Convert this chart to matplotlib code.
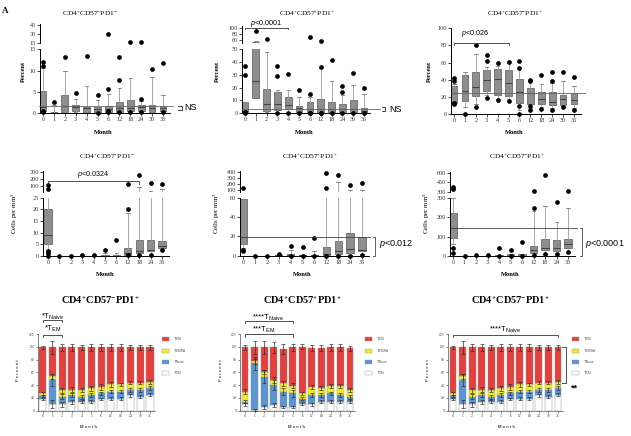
import matplotlib
matplotlib.use('Agg')
import matplotlib.pyplot as plt
import numpy as np
from matplotlib.patches import Rectangle

plt.rcParams['font.family'] = ['Liberation Serif', 'DejaVu Serif']
plt.rcParams['mathtext.fontset'] = 'custom'
plt.rcParams['mathtext.rm'] = 'Liberation Sans'
plt.rcParams['mathtext.it'] = 'Liberation Sans:italic'
plt.rcParams['mathtext.bf'] = 'Liberation Sans:bold'

# ---------------- data ----------------
months12 = ['0', '1', '2', '3', '4', '5', '6', '12', '18', '24', '30', '36']
months11 = ['0', '1', '2', '3', '4', '5', '6', '12', '18', '24', '36']

# Row 1, panel 1: CD4+CD57+PD1- (percent)
p1_q1 = [0.5, 0.0, 0.2, 0.5, 0.3, 0.3, 0.2, 0.3, 0.5, 0.5, 0.3, 0.5]
p1_med = [1.5, 0.1, 1.7, 1.5, 1.2, 1.0, 1.0, 1.3, 1.3, 1.4, 1.2, 1.2]
p1_q3 = [5.3, 0.3, 4.3, 2.0, 1.5, 1.5, 1.7, 2.7, 3.0, 2.0, 2.0, 1.7]
p1_lo = [0.2, 0.0, 0.1, 0.3, 0.1, 0.1, 0.1, 0.1, 0.2, 0.2, 0.1, 0.2]
p1_hi = [10.7, 2.0, 9.8, 3.4, 6.3, 3.2, 4.5, 6.0, 8.3, 2.8, 8.5, 4.3]
p1_fl = [[12.0, 11.0, 0.3, 0.5], [2.7], [13.2], [4.7], [13.5], [4.2, 0.0],
         [5.6, 30.0, 0.3, 0.5], [13.2, 7.7, 0.2], [16.5, 0.2], [3.4, 16.5, 0.3],
         [10.3], [11.9, 0.3]]

# Row 1, panel 2: CD4+CD57+PD1+ (percent)
p2_q1 = [0.5, 12, 2, 2.5, 3, 1, 1, 0.5, 1, 1, 1, 0.5]
p2_med = [2, 25, 7, 7.5, 6.5, 4, 3, 3, 3, 3, 3, 2]
p2_q3 = [8.5, 52, 19, 17, 12.5, 6, 8.5, 11, 8.5, 7.5, 10.5, 4.5]
p2_lo = [0.2, 12, 1, 1, 1, 0.3, 0.2, 0.2, 0.3, 0.3, 0.3, 0.2]
p2_hi = [8.5, 57, 48, 18, 18, 12.5, 13, 35, 25, 14, 22, 15]
p2_fl = [[37, 30, 1, 0.5], [90], [63], [37, 29, 0], [31, 0], [18, 0],
         [15, 70, 0, 0.3], [36, 57, 0, 0.3], [42, 0], [21, 17, 0], [31.5, 0], [20, 0]]

# Row 1, panel 3: CD4+CD57-PD1+ (percent)
p3_q1 = [13, 15, 21, 27, 22, 21, 13, 12, 12, 11, 11, 12]
p3_med = [24, 27, 32, 40, 41, 36, 26, 24, 17, 14, 17, 16]
p3_q3 = [33, 45, 49, 51, 52, 51, 41, 30, 26, 26, 22, 24]
p3_lo = [13, 8, 12, 22, 17, 17, 5, 7, 8, 7, 9, 7]
p3_hi = [35, 49, 70, 55, 56, 60, 54, 40, 35, 36, 39, 33]
p3_fl = [[42, 38, 12, 12.5], [0], [81, 8], [69, 62, 19], [60, 16], [61, 15],
         [62, 54, 9, 0], [39, 40, 5, 9], [46, 6], [49, 39, 5], [49, 8], [43, 5]]

# Row 2, panel 4: CD4+CD57+PD1- (cells per mm3)
p4_q1 = [5, 0, 0, 0, 0, 0, 0, 0.3, 1.5, 2, 3.5]
p4_med = [9, 0, 0, 0, 0, 0.1, 0.2, 1.5, 2, 2.7, 4.5]
p4_q3 = [20, 0, 0.1, 0.1, 0.2, 0.5, 0.5, 3.3, 7, 7, 6.5]
p4_lo = [2.5, 0, 0, 0, 0, 0, 0, 0.3, 0.5, 0.5, 2.5]
p4_hi = [30, 0, 0.2, 0.3, 0.5, 1.5, 1.5, 18.5, 95, 40, 65]
p4_fl = [[120, 60, 2, 1.2, 0], [0], [0.2], [0.3], [0.5], [2.7], [7],
         [20, 130, 0.3], [250, 0.5], [150, 0.5], [130, 2.5]]

# Row 2, panel 5: CD4+CD57+PD1+ (cells per mm3)
p5_q1 = [12, 0, 0, 0, 0, 0, 0, 1, 2, 3, 5]
p5_med = [19, 0, 0, 0.5, 0.5, 0.3, 0.5, 2, 5, 7, 6]
p5_q3 = [59, 0, 0, 1, 1.5, 0.5, 1, 9, 15, 23, 19]
p5_lo = [8, 0, 0, 0, 0, 0, 0, 0.5, 1, 1, 2]
p5_hi = [59, 0, 0, 1.5, 6, 1, 5, 62, 220, 95, 100]
p5_fl = [[130, 6, 5], [0], [0], [2], [10, 0], [9.5, 0], [18, 0],
         [130, 370, 0], [350, 0], [170, 0], [210, 1]]

# Row 2, panel 6: CD4+CD57-PD1+ (cells per mm3)
p6_q1 = [95, 0, 0, 0, 0, 0, 0, 15, 30, 25, 42]
p6_med = [145, 0, 0, 0, 1, 2, 2, 30, 40, 40, 60]
p6_q3 = [220, 0, 0, 0, 5, 8, 8, 50, 85, 82, 88]
p6_lo = [60, 0, 0, 0, 0, 0, 0, 5, 10, 8, 20]
p6_hi = [300, 0, 0, 0, 5, 8, 8, 230, 258, 175, 248]
p6_fl = [[380, 350, 40, 15], [0], [5], [5], [40, 0], [33, 0], [70, 0],
         [310, 245, 5], [560, 10], [280, 8], [310, 20]]

# Row 3: memory subsets (percent, stacked): CM, Naive, EMRA, EM
neg_cm = [18, 10, 10, 14, 14, 14, 18, 19, 19, 24, 22, 25]
neg_naive = [5, 38, 12, 10, 8, 10, 9, 11, 11, 9, 11, 10]
neg_emra = [4, 6, 10, 9, 11, 11, 10, 11, 11, 11, 11, 10]
neg_em = [72, 45, 67, 66, 66, 64, 62, 58, 58, 55, 55, 54]
neg_cm_err = [2, 6, 4, 3, 2, 2, 2, 2, 2, 2, 2, 2]
neg_naive_err = [2, 10, 4, 3, 3, 3, 3, 3, 3, 3, 3, 3]
neg_emra_err = [2, 4, 4, 4, 3, 4, 4, 4, 3, 3, 3, 3]
neg_em_err = [3, 10, 6, 5, 4, 5, 5, 5, 5, 4, 4, 4]

pos_cm = [10, 1, 6, 9, 6, 6, 11, 10, 14, 14, 14, 14]
pos_naive = [4, 73, 47, 31, 24, 21, 8, 15, 11, 13, 11, 8]
pos_emra = [16, 3, 8, 8, 13, 12, 8, 12, 10, 12, 13, 10]
pos_em = [69, 22, 38, 51, 54, 60, 73, 61, 63, 60, 61, 66]
pos_cm_err = [2, 1, 3, 3, 2, 2, 2, 2, 2, 2, 2, 2]
pos_naive_err = [2, 10, 10, 8, 6, 6, 3, 3, 3, 3, 3, 3]
pos_emra_err = [4, 4, 3, 4, 4, 4, 3, 3, 3, 3, 3, 3]
pos_em_err = [4, 10, 10, 8, 8, 6, 4, 5, 5, 5, 5, 4]

subset_labels = [r'T$\mathregular{_{EM}}$', r'T$\mathregular{_{EMRA}}$',
                 r'T$\mathregular{_{Naive}}$', r'T$\mathregular{_{CM}}$']
subset_colors = ['#e5403d', '#f3ec1c', '#5b96d2', '#ffffff']  # EM, EMRA, Naive, CM

# ---------------- figure ----------------
W, H = 631, 436
fig = plt.figure(figsize=(W / 100, H / 100), dpi=100)


def add_ax(x0, y0, x1, y1):
    return fig.add_axes([x0 / W, 1 - y1 / H, (x1 - x0) / W, (y1 - y0) / H])


def ftext(x, y, s, **kw):
    return fig.text(x / W, 1 - y / H, s, **kw)


def style_ax(ax, lw=0.7, color='black', labelsize=4.4):
    for sp in ['top', 'right']:
        ax.spines[sp].set_visible(False)
    for sp in ['left', 'bottom']:
        ax.spines[sp].set_linewidth(lw)
        ax.spines[sp].set_color(color)
    ax.tick_params(direction='out', length=2, width=0.5, labelsize=labelsize, pad=1,
                   color=color, labelcolor='#333')
    ax.patch.set_alpha(0)


def xgeom(first, last, left, n, extra=0.6):
    s = (last - first) / (n - 1)
    lo = -(first - left) / s
    hi = n - 1 + extra
    return lo, hi, first + hi * s


def draw_boxes(ax, q1, med, q3, lo, hi, fliers, ylim):
    stats = [dict(med=m, q1=a, q3=b, whislo=l, whishi=h, fliers=[])
             for a, m, b, l, h in zip(q1, med, q3, lo, hi)]
    ax.bxp(stats, positions=list(range(len(stats))), widths=0.62, patch_artist=True,
           showfliers=False, manage_ticks=False, capwidths=0.32,
           boxprops=dict(facecolor='#8e8e8e', edgecolor='#6a6a6a', linewidth=0.6),
           medianprops=dict(color='#444444', linewidth=0.8),
           whiskerprops=dict(color='#9a9a9a', linewidth=0.6),
           capprops=dict(color='#7a7a7a', linewidth=0.6))
    for i, fl in enumerate(fliers):
        ys = [v for v in fl if ylim[0] <= v <= ylim[1]]
        if ys:
            ax.plot([i] * len(ys), ys, 'o', color='black', ms=3.4, mec='none',
                    clip_on=False, zorder=6)
    ax.set_ylim(ylim)


def box_panel(geom, cats, data, lower_px, lower_lim, lower_ticks,
              upper_px=None, upper_lim=None, upper_ticks=None):
    first, last, left = geom
    n = len(cats)
    lo, hi, x1 = xgeom(first, last, left, n)
    axl = add_ax(left, lower_px[0], x1, lower_px[1])
    draw_boxes(axl, *data, lower_lim)
    axl.set_xlim(lo, hi)
    axl.set_xticks(range(n))
    axl.set_xticklabels(cats)
    axl.set_yticks(lower_ticks)
    style_ax(axl)
    axu = None
    if upper_px is not None:
        axu = add_ax(left, upper_px[0], x1, upper_px[1])
        draw_boxes(axu, *data, upper_lim)
        axu.set_xlim(lo, hi)
        axu.set_yticks(upper_ticks)
        style_ax(axu)
        axu.spines['bottom'].set_visible(False)
        axu.tick_params(axis='x', bottom=False, labelbottom=False)
    return axl, axu


def bracket(ax, x0, x1, y, drop, lw=0.6, color='#333'):
    ax.plot([x0, x0, x1, x1], [y - drop, y, y, y - drop], color=color, lw=lw,
            clip_on=False, zorder=7)


def title(x, y, s, size=5.4, weight='normal'):
    ftext(x, y, s, ha='center', va='center', fontsize=size, fontweight=weight,
          family='Liberation Serif')


# ---- panel letter ----
ftext(5, 11, 'A', fontsize=6.5, fontweight='bold', ha='center', va='center')

# ================= ROW 1 =================
title(90, 14, r'CD4$\mathregular{^{+}}$CD57$\mathregular{^{+}}$PD1$\mathregular{^{-}}$')
title(307, 14, r'CD4$\mathregular{^{+}}$CD57$\mathregular{^{+}}$PD1$\mathregular{^{+}}$')
title(515, 14, r'CD4$\mathregular{^{+}}$CD57$\mathregular{^{-}}$PD1$\mathregular{^{+}}$')

a1l, a1u = box_panel((43, 163, 40), months12,
                     (p1_q1, p1_med, p1_q3, p1_lo, p1_hi, p1_fl),
                     (49.3, 113.3), (0, 15), [0, 5, 10, 15],
                     (24, 43), (15, 47), [15, 30, 45])
a1l.plot([-0.37, 11.9], [1.7, 1.7], color='#666', lw=0.6, clip_on=False, zorder=7)
a1l.plot([12.35, 12.7, 12.7, 12.35], [1.8, 1.8, 0.8, 0.8], color='#222', lw=0.6, clip_on=False)
a1l.text(12.95, 1.3, 'NS', fontsize=6.5, family='Liberation Sans', va='center', ha='left')

a2l, a2u = box_panel((245, 364, 242), months12,
                     (p2_q1, p2_med, p2_q3, p2_lo, p2_hi, p2_fl),
                     (49.3, 113.3), (0, 50), [0, 10, 20, 30, 40, 50],
                     (26, 43), (50, 105), [60, 80, 100])
a2l.plot([-0.3, 12.5], [3.5, 3.5], color='#666', lw=0.6, clip_on=False, zorder=7)
a2l.plot([12.7, 12.95, 12.95, 12.7], [4.7, 4.7, 1.8, 1.8], color='#222', lw=0.6, clip_on=False)
a2l.text(13.3, 3.2, 'NS', fontsize=6.5, family='Liberation Sans', va='center', ha='left')
bracket(a2u, 0, 4, 99, 5)
a2u.text(2.0, 114, r'$\mathit{p}$<0.0001', fontsize=5.2, family='Liberation Sans',
         ha='center', va='center')

a3l, _ = box_panel((454, 574, 451), months12,
                   (p3_q1, p3_med, p3_q3, p3_lo, p3_hi, p3_fl),
                   (28.3, 114), (0, 100), [0, 20, 40, 60, 80, 100])
a3l.plot([-0.3, 12.0], [25, 25], color='#666', lw=0.6, clip_on=False, zorder=7)
bracket(a3l, 0, 5, 83, 3)
a3l.text(1.9, 94, r'$\mathit{p}$<0.026', fontsize=5.2, family='Liberation Sans',
         ha='center', va='center')

for x in (23, 217, 429):
    ftext(x, 72, 'Percent', rotation=90, fontsize=4.7, fontweight='bold', ha='center', va='center')
for x in (103, 304, 514):
    ftext(x, 132, 'Month', fontsize=4.7, fontweight='bold', ha='center', va='center')

# ================= ROW 2 =================
title(107, 157, r'CD4$\mathregular{^{+}}$CD57$\mathregular{^{+}}$PD1$\mathregular{^{-}}$')
title(310, 157, r'CD4$\mathregular{^{+}}$CD57$\mathregular{^{+}}$PD1$\mathregular{^{+}}$')
title(517, 157, r'CD4$\mathregular{^{+}}$CD57$\mathregular{^{-}}$PD1$\mathregular{^{+}}$')

a4l, a4u = box_panel((48, 162, 43), months11,
                     (p4_q1, p4_med, p4_q3, p4_lo, p4_hi, p4_fl),
                     (197.7, 256), (0, 25), [0, 5, 10, 15, 20, 25],
                     (171, 192), (25, 310), [100, 200, 300])
bracket(a4u, 0, 8, 178, 45)
a4u.text(4.0, 269, r'$\mathit{p}$<0.0324', fontsize=5.2, family='Liberation Sans',
         ha='center', va='center')

a5l, a5u = box_panel((243, 362, 240), months11,
                     (p5_q1, p5_med, p5_q3, p5_lo, p5_hi, p5_fl),
                     (197.7, 255.7), (0, 60), [0, 20, 40, 60],
                     (171, 192), (60, 410), [100, 200, 300, 400])
a5l.plot([-0.25, 10.7], [19, 19], color='#444', lw=0.6, clip_on=False, zorder=7)
a5l.plot([10.9, 11.1, 11.1, 10.9], [19, 19, 0, 0], color='#444', lw=0.6, clip_on=False)
a5l.text(11.4, 12, r'$\mathit{p}$<0.012', fontsize=6.5, family='Liberation Sans',
         ha='left', va='center')

a6l, a6u = box_panel((453, 568, 450), months11,
                     (p6_q1, p6_med, p6_q3, p6_lo, p6_hi, p6_fl),
                     (197.7, 256), (0, 300), [0, 100, 200, 300],
                     (171.7, 191.7), (300, 615), [300, 450, 600])
a6l.plot([-0.25, 10.8], [145, 145], color='#444', lw=0.6, clip_on=False, zorder=7)
a6l.plot([11.0, 11.2, 11.2, 11.0], [145, 145, 0, 0], color='#444', lw=0.6, clip_on=False)
a6l.text(11.5, 62, r'$\mathit{p}$<0.0001', fontsize=6.5, family='Liberation Sans',
         ha='left', va='center')

for x in (15, 217, 427):
    ftext(x, 213, r'Cells per mm$\mathregular{^{3}}$', rotation=90, fontsize=5,
          ha='center', va='center')
for x in (105, 302, 510):
    ftext(x, 274, 'Month', fontsize=4.7, fontweight='bold', ha='center', va='center')

# ================= ROW 3 =================
title(100, 300, r'CD4$\mathregular{^{+}}$CD57$\mathregular{^{-}}$PD1$\mathregular{^{+}}$', size=7.5, weight='bold')
title(302, 300, r'CD4$\mathregular{^{+}}$CD57$\mathregular{^{+}}$PD1$\mathregular{^{+}}$', size=7.5, weight='bold')
title(510, 300, r'CD4$\mathregular{^{+}}$CD57$\mathregular{^{-}}$PD1$\mathregular{^{+}}$', size=7.5, weight='bold')


def bar_panel(geom, segs, errs, legend_x):
    first, last, left = geom
    lo, hi, x1 = xgeom(first, last, left, 12, extra=0.55)
    ax = add_ax(left, 334, x1, 410.7)
    x = np.arange(12)
    bottom = np.zeros(12)
    cols = [subset_colors[3], subset_colors[2], subset_colors[1], subset_colors[0]]
    for vals, err, col in zip(segs, errs, cols):
        vals = np.asarray(vals, float)
        ax.bar(x, vals, bottom=bottom, width=0.72, color=col, edgecolor='#8a8a8a',
               linewidth=0.3, zorder=2)
        top = bottom + vals
        ax.errorbar(x, top, yerr=err, fmt='none', ecolor='#333', elinewidth=0.5,
                    capsize=1.3, capthick=0.5, zorder=3)
        bottom = top
    ax.set_xlim(lo, hi)
    ax.set_ylim(0, 120)
    ax.set_yticks(range(0, 121, 20))
    ax.set_xticks(x)
    ax.set_xticklabels(months12)
    style_ax(ax, lw=0.5, color='#555', labelsize=2.6)
    ax.tick_params(length=1.5)
    # legend
    for k, (lab, col) in enumerate(zip(subset_labels, subset_colors)):
        yc = [339.3, 350.7, 361.7, 372.7][k]
        fig.add_artist(Rectangle((legend_x / W, 1 - (yc + 2) / H), 7 / W, 4 / H,
                                 transform=fig.transFigure, facecolor=col,
                                 edgecolor='#999', linewidth=0.3))
        ftext(legend_x + 11, yc, lab, fontsize=3.2, family='Liberation Sans',
              color='#555', ha='left', va='center')
    return ax


a7 = bar_panel((42.7, 150, 38), (neg_cm, neg_naive, neg_emra, neg_em),
               (neg_cm_err, neg_naive_err, neg_emra_err, neg_em_err), 162)
bracket(a7, 0, 2, 142, 4)
a7.text(1.0, 138, r'*T$\mathregular{_{Naive}}$', fontsize=5.5, family='Liberation Sans',
        ha='center', va='bottom')
bracket(a7, 0, 2, 119, 4)
a7.text(1.0, 120, r'*T$\mathregular{_{EM}}$', fontsize=5.5, family='Liberation Sans',
        ha='center', va='bottom')

a8 = bar_panel((245, 350, 240), (pos_cm, pos_naive, pos_emra, pos_em),
               (pos_cm_err, pos_naive_err, pos_emra_err, pos_em_err), 365)
bracket(a8, 0, 5, 141, 4)
a8.text(2.4, 137, r'****T$\mathregular{_{Naive}}$', fontsize=5.5, family='Liberation Sans',
        ha='center', va='bottom')
bracket(a8, 0, 5, 120, 4)
a8.text(2.0, 118, r'***T$\mathregular{_{EM}}$', fontsize=5.5, family='Liberation Sans',
        ha='center', va='bottom')

a9 = bar_panel((453, 558, 448), (neg_cm, neg_naive, neg_emra, neg_em),
               (neg_cm_err, neg_naive_err, neg_emra_err, neg_em_err), 572)
bracket(a9, 0, 11, 119, 4)
a9.text(5.4, 118, r'****T$\mathregular{_{Naive}}$', fontsize=5.5, family='Liberation Sans',
        ha='center', va='bottom')
a9.plot([11.4, 11.8, 11.8, 11.4], [100, 100, 43, 43], color='#333', lw=0.6, clip_on=False)
a9.text(12.7, 35, '**', fontsize=6.5, family='Liberation Sans', fontweight='bold',
        ha='center', va='center')

for x in (18, 221, 428):
    ftext(x, 370, 'P e r c e n t', rotation=90, fontsize=3, fontweight='bold',
          family='Liberation Sans', color='#444', ha='center', va='center')
for x in (89, 297, 507):
    ftext(x, 427, 'M o n t h', fontsize=3, fontweight='bold', family='Liberation Sans',
          color='#444', ha='center', va='center')

fig.savefig('out.png', dpi=100)
